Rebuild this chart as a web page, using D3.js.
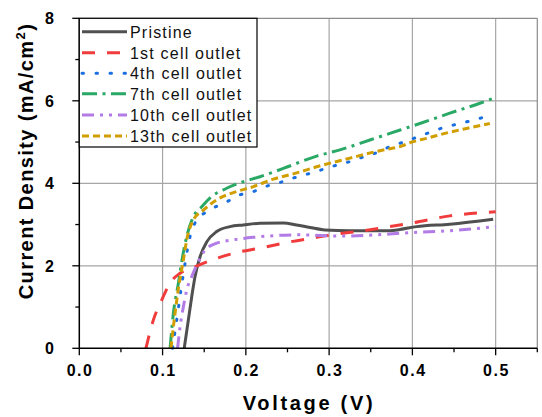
<!DOCTYPE html>
<html><head><meta charset="utf-8">
<script src="https://cdn.jsdelivr.net/npm/d3@7"></script>
<style>html,body{margin:0;padding:0;background:#fff;}svg{display:block;font-family:"Liberation Sans",Arial,sans-serif;}</style>
</head><body><svg id="c" width="542" height="417"></svg>
<script>
const seriesNames = ["Pristine","1st cell outlet","4th cell outlet","7th cell outlet","10th cell outlet","13th cell outlet"];
const xTicks = [0.0,0.1,0.2,0.3,0.4,0.5];
const xTickLabels = ["0.0","0.1","0.2","0.3","0.4","0.5"];
const yTicks = [0,2,4,6,8];
const yTickLabels = ["0","2","4","6","8"];

const pristineV = [0.126,0.131,0.135,0.139,0.145,0.153,0.165,0.181,0.197,0.217,0.245,0.261,0.277,0.295,0.325,0.373,0.385,0.405,0.445,0.497];
const pristineJ = [0,0.69,1.25,1.74,2.22,2.58,2.83,2.95,2.99,3.03,3.04,2.99,2.93,2.87,2.85,2.85,2.88,2.95,3.01,3.13];
const cell1V = [0.080,0.089,0.099,0.109,0.121,0.137,0.165,0.193,0.215,0.253,0.285,0.309,0.341,0.373,0.397,0.445,0.5];
const cell1J = [0,0.69,1.17,1.58,1.82,1.96,2.18,2.34,2.42,2.58,2.69,2.77,2.85,2.95,3.03,3.21,3.31];
const cell4V = [0.112,0.117,0.122,0.127,0.133,0.141,0.153,0.177,0.193,0.209,0.225,0.241,0.259,0.277,0.309,0.329,0.341,0.357,0.373,0.391,0.407,0.423,0.439,0.457,0.473,0.491];
const cell4J = [0,0.69,1.4,2.06,2.71,3.11,3.31,3.55,3.72,3.80,3.93,4.02,4.14,4.24,4.44,4.55,4.64,4.74,4.89,5.01,5.13,5.25,5.36,5.45,5.53,5.63];
const cell7V = [0.109,0.113,0.119,0.124,0.129,0.137,0.147,0.159,0.177,0.197,0.217,0.245,0.285,0.313,0.349,0.373,0.409,0.445,0.481,0.5];
const cell7J = [0,0.85,1.58,2.22,2.71,3.19,3.43,3.68,3.88,4.04,4.16,4.36,4.66,4.81,5.05,5.21,5.45,5.70,5.94,6.08];
const cell10V = [0.118,0.121,0.125,0.129,0.135,0.143,0.151,0.165,0.185,0.209,0.265,0.313,0.357,0.385,0.445,0.5];
const cell10J = [0,0.52,1.01,1.41,1.74,2.10,2.38,2.55,2.63,2.69,2.75,2.72,2.75,2.79,2.85,2.95];
const cell13V = [0.110,0.115,0.120,0.125,0.129,0.137,0.149,0.165,0.189,0.209,0.233,0.259,0.285,0.325,0.361,0.385,0.401,0.417,0.439,0.465,0.493];
const cell13J = [0,0.85,1.58,2.14,2.63,3.11,3.35,3.60,3.80,3.92,4.10,4.24,4.40,4.61,4.79,4.89,5.01,5.09,5.21,5.33,5.45];

const colors = ["#505050","#f03c3c","#1a6fe0","#2aa866","#b27be6","#d19e00"];
const dashes = [null,"13,12","1.5,12.5","15,5.5,3,5.5","12,6,3,6,3,6","7,4"];
const caps = ["butt","butt","round","butt","butt","butt"];

const series = [
  [pristineV,pristineJ],[cell1V,cell1J],[cell4V,cell4J],[cell7V,cell7J],[cell10V,cell10J],[cell13V,cell13J]
].map((s,i)=>({name:seriesNames[i],pts:s[0].map((v,k)=>[v,s[1][k]])}));

const svg = d3.select("#c");
const L=79.3,R=537.3,T=18.3,B=348.3;
const x = d3.scaleLinear().domain([0,0.55]).range([L,R]);
const y = d3.scaleLinear().domain([0,8]).range([B,T]);

// grid
const g = svg.append("g");
g.selectAll(".gx").data(xTicks.filter(d=>d>0)).enter().append("line")
 .attr("x1",d=>x(d)).attr("x2",d=>x(d)).attr("y1",B).attr("y2",T)
 .attr("stroke","#a6a6a6").attr("stroke-width",1.2);
g.selectAll(".gy").data(yTicks.filter(d=>d>0 && d<8)).enter().append("line")
 .attr("y1",d=>y(d)).attr("y2",d=>y(d)).attr("x1",L).attr("x2",R)
 .attr("stroke","#a6a6a6").attr("stroke-width",1.2);
svg.append("line").attr("x1",L).attr("x2",R).attr("y1",T).attr("y2",T).attr("stroke","#8c8c8c").attr("stroke-width",1.2);
svg.append("line").attr("x1",R).attr("x2",R).attr("y1",T).attr("y2",B).attr("stroke","#8c8c8c").attr("stroke-width",1.2);

// curves
const line = d3.line().x(d=>x(d[0])).y(d=>y(d[1])).curve(d3.curveMonotoneX);
svg.append("clipPath").attr("id","cp").append("rect").attr("x",L).attr("y",T).attr("width",R-L).attr("height",B-T+2);
series.forEach((s,i)=>{
  svg.append("path").attr("d",line(s.pts)).attr("fill","none")
   .attr("stroke",colors[i]).attr("stroke-width",3)
   .attr("stroke-dasharray",dashes[i]).attr("stroke-linecap",caps[i])
   .attr("stroke-linejoin","round").attr("clip-path","url(#cp)");
});

// axes
svg.append("line").attr("x1",L).attr("x2",R).attr("y1",B).attr("y2",B).attr("stroke","#000").attr("stroke-width",1.5);
const xMinor = d3.scaleLinear().domain([0,0.55]).range([L,R]).ticks(11);
xMinor.forEach((v,k)=>{
  svg.append("line").attr("x1",x(v)).attr("x2",x(v)).attr("y1",B).attr("y2",B+(k%2===0?7:4)).attr("stroke","#000").attr("stroke-width",1.3);
});
svg.selectAll(".xl").data(xTicks).enter().append("text")
 .attr("x",(d)=>x(d)+0.8).attr("y",376).attr("text-anchor","middle")
 .attr("font-size",16).attr("font-weight","bold").attr("letter-spacing","1.5px")
 .text((d,i)=>xTickLabels[i]);

svg.append("line").attr("x1",L).attr("x2",L).attr("y1",B).attr("y2",T).attr("stroke","#000").attr("stroke-width",1.5);
y.ticks(8).forEach((v,k)=>{
  svg.append("line").attr("x1",L).attr("x2",L-(k%2===0?7:4)).attr("y1",y(v)).attr("y2",y(v)).attr("stroke","#000").attr("stroke-width",1.3);
});
svg.selectAll(".yl").data(yTicks).enter().append("text")
 .attr("x",54).attr("y",d=>y(d)+6).attr("text-anchor","end")
 .attr("font-size",16).attr("font-weight","bold")
 .text((d,i)=>yTickLabels[i]);

// axis titles
svg.append("text").attr("x",309).attr("y",410).attr("text-anchor","middle")
 .attr("font-size",20).attr("font-weight","bold").attr("letter-spacing","2.7px").text("Voltage (V)");
const yt = svg.append("text").attr("transform","translate(33,161) rotate(-90)").attr("text-anchor","middle")
 .attr("font-size",20).attr("font-weight","bold").attr("letter-spacing","1.4px");
yt.append("tspan").text("Current Density (mA/cm");
yt.append("tspan").attr("font-size",13).attr("dy",-8).text("2");
yt.append("tspan").attr("dy",8).text(")");

// legend
const lg = svg.append("g");
lg.append("rect").attr("x",L).attr("y",T).attr("width",257-L).attr("height",147-T)
 .attr("fill","#fff").attr("stroke","#000").attr("stroke-width",1.2);
const rowY = [31.7,52.7,73.3,93.8,115,136];
series.forEach((s,i)=>{
  lg.append("line").attr("x1",82).attr("x2",127).attr("y1",rowY[i]).attr("y2",rowY[i])
   .attr("stroke",colors[i]).attr("stroke-width",3).attr("stroke-dasharray",dashes[i]).attr("stroke-linecap",caps[i]);
  lg.append("text").attr("x",130).attr("y",rowY[i]+5.8).attr("font-size",16).attr("letter-spacing","1.2px")
   .attr("fill","#111").text(s.name);
});
</script></body></html>
